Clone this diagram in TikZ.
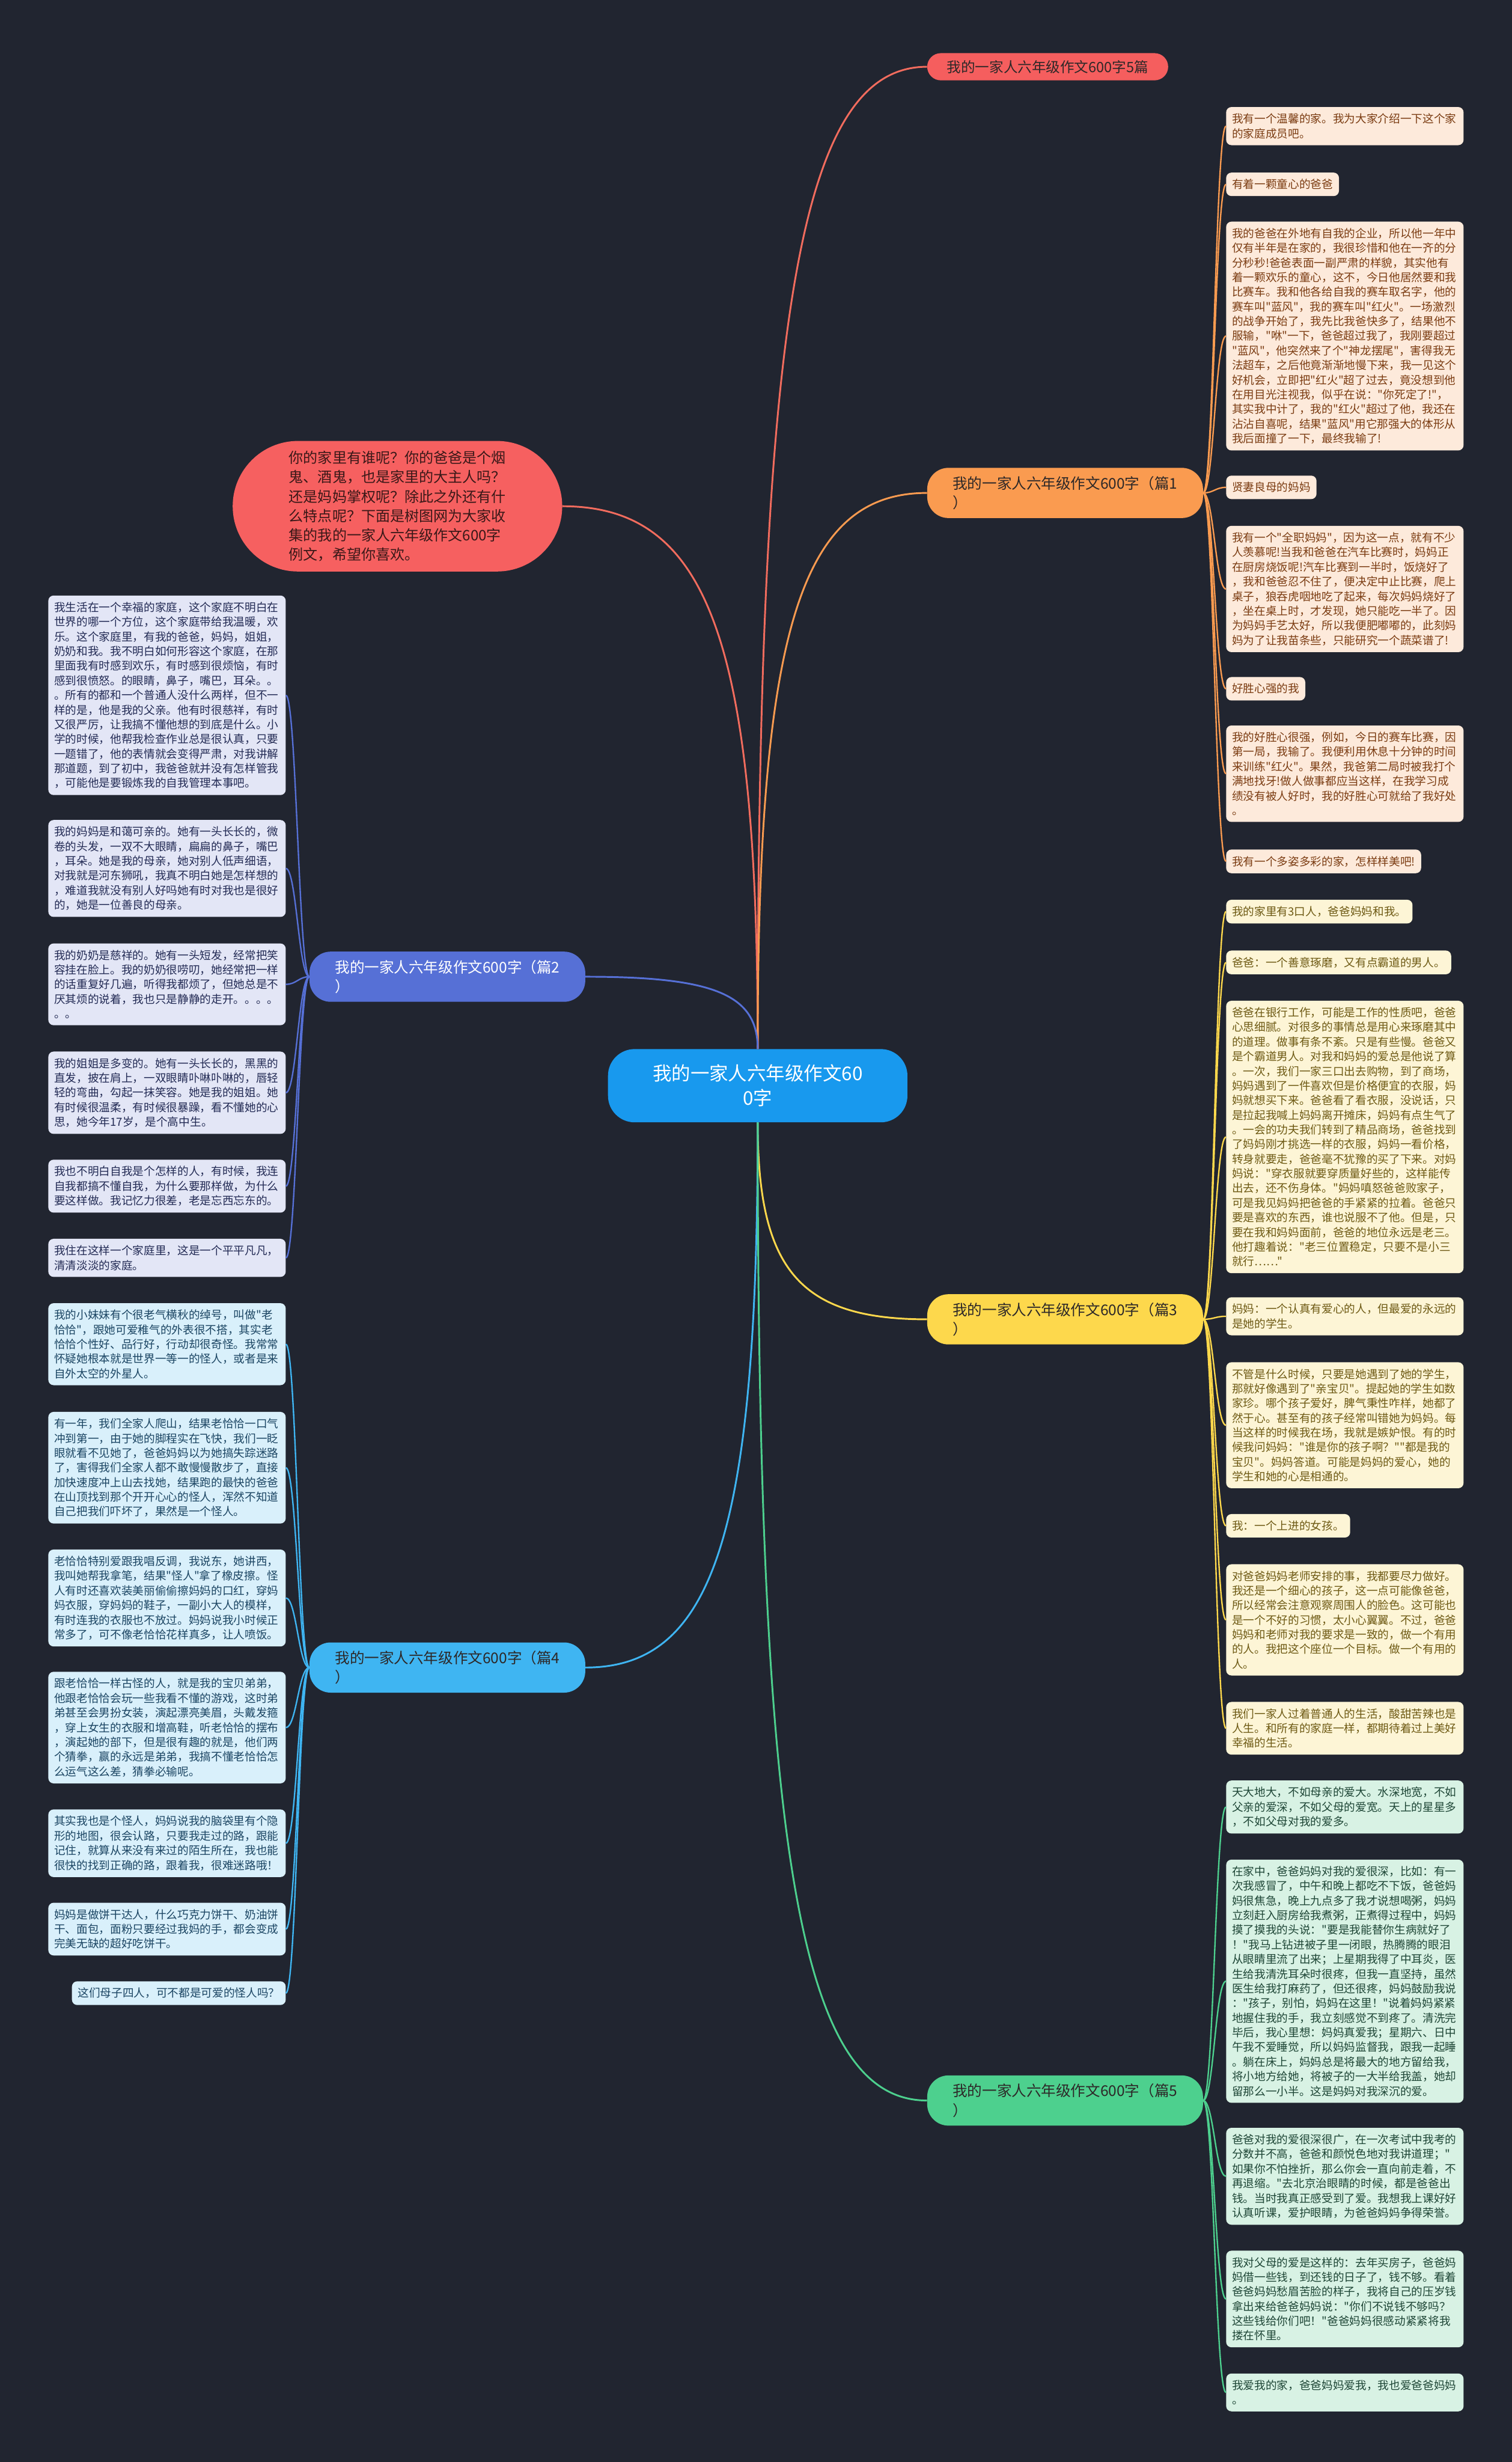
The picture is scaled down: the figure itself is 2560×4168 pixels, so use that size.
\documentclass[tikz,border=0pt]{standalone}
\usepackage{fontspec}
\newfontfamily\cjk{Noto Sans CJK SC}
\usetikzlibrary{calc,shapes.misc}
\definecolor{bgdark}{RGB}{33,37,48}
\definecolor{hubblue}{RGB}{24,153,238}
\definecolor{introred}{RGB}{246,96,96}
\definecolor{introtext}{RGB}{58,24,24}
\definecolor{titlered}{RGB}{245,94,94}
\definecolor{linkred}{RGB}{242,108,94}
\definecolor{essayorange}{RGB}{250,155,80}
\definecolor{essayblue}{RGB}{86,112,214}
\definecolor{essayyellow}{RGB}{253,216,76}
\definecolor{essaycyan}{RGB}{63,181,242}
\definecolor{essaygreen}{RGB}{77,208,142}
\definecolor{darktext}{RGB}{45,40,40}
\definecolor{peachfill}{RGB}{253,234,219}
\definecolor{peachtext}{RGB}{123,60,18}
\definecolor{creamfill}{RGB}{253,245,214}
\definecolor{creamtext}{RGB}{110,90,20}
\definecolor{mintfill}{RGB}{216,242,228}
\definecolor{minttext}{RGB}{30,70,54}
\definecolor{lavfill}{RGB}{227,230,246}
\definecolor{lavtext}{RGB}{35,43,85}
\definecolor{skyfill}{RGB}{217,240,251}
\definecolor{skytext}{RGB}{27,69,99}

% curved link from the hub to an essay node
\newcommand{\stemlink}[3]{\draw[#1] (#2) .. controls ($(#2)!0.75!(#2|-#3)$) and ($(#3)!0.75!(#2|-#3)$) .. (#3);}

\begin{document}
\begin{tikzpicture}[x=1pt, y=-1pt,
    hub/.style={rectangle, rounded corners=45pt, fill=hubblue, text=white, minimum width=507pt,
                minimum height=124pt, align=center, inner sep=4pt, font=\cjk\fontsize{32}{42}\selectfont},
    intro/.style={rounded rectangle, fill=introred, text=introtext, minimum width=566pt,
                  minimum height=221pt, align=left, inner sep=4pt, font=\cjk\fontsize{24.5}{32.7}\selectfont},
    titlebox/.style={rounded rectangle, fill=titlered, text=darktext, minimum width=412pt,
                     minimum height=46pt, inner sep=2pt, font=\cjk\fontsize{24}{30}\selectfont},
    essay/.style={rectangle, rounded corners=36pt, minimum width=467pt, minimum height=85pt,
                  align=left, inner sep=4pt, font=\cjk\fontsize{25}{33}\selectfont},
    leaf/.style={rectangle, rounded corners=9pt, inner xsep=10pt, inner ysep=11pt, align=left,
                 font=\cjk\fontsize{19}{24.8}\selectfont},
    leafw/.style={leaf, text width=382pt},
    rside/.style={anchor=north west},
    lside/.style={anchor=north east},
    peach/.style={fill=peachfill, text=peachtext},
    cream/.style={fill=creamfill, text=creamtext},
    mint/.style={fill=mintfill, text=minttext},
    lav/.style={fill=lavfill, text=lavtext},
    sky/.style={fill=skyfill, text=skytext},
    link/.style={line width=3pt},
    twig/.style={line width=2.4pt}
]
\fill[bgdark] (0,0) rectangle (2560,4168);

% centre, intro and title
\node[hub] (hub) at (1283,1838) {我的一家人六年级作文60\\0字};
\node[intro] (intro) at (673,857) {你的家里有谁呢？你的爸爸是个烟\\鬼、酒鬼，也是家里的大主人吗？\\还是妈妈掌权呢？除此之外还有什\\么特点呢？下面是树图网为大家收\\集的我的一家人六年级作文600字\\例文，希望你喜欢。};
\node[titlebox] (title) at (1774,113) {我的一家人六年级作文600字5篇};

% essay nodes
\node[essay, fill=essayorange, text=darktext] (p1) at (1803.5,834.5) {我的一家人六年级作文600字（篇1\\）};
\node[essay, fill=essayblue, text=white] (p2) at (757.5,1653.5) {我的一家人六年级作文600字（篇2\\）};
\node[essay, fill=essayyellow, text=darktext] (p3) at (1803.5,2233.5) {我的一家人六年级作文600字（篇3\\）};
\node[essay, fill=essaycyan, text=darktext] (p4) at (757.5,2823) {我的一家人六年级作文600字（篇4\\）};
\node[essay, fill=essaygreen, text=darktext] (p5) at (1803.5,3556) {我的一家人六年级作文600字（篇5\\）};

% essay 1
\node[leafw, peach, rside] (a1) at (2076,181) {我有一个温馨的家。我为大家介绍一下这个家\\的家庭成员吧。};
\node[leaf, peach, rside] (a2) at (2076,292) {有着一颗童心的爸爸};
\node[leafw, peach, rside] (a3) at (2076,375) {我的爸爸在外地有自我的企业，所以他一年中\\仅有半年是在家的，我很珍惜和他在一齐的分\\分秒秒!爸爸表面一副严肃的样貌，其实他有\\着一颗欢乐的童心，这不，今日他居然要和我\\比赛车。我和他各给自我的赛车取名字，他的\\赛车叫"蓝风"，我的赛车叫"红火"。一场激烈\\的战争开始了，我先比我爸快多了，结果他不\\服输，"咻"一下，爸爸超过我了，我刚要超过\\"蓝风"，他突然来了个"神龙摆尾"，害得我无\\法超车，之后他竟渐渐地慢下来，我一见这个\\好机会，立即把"红火"超了过去，竟没想到他\\在用目光注视我，似乎在说："你死定了!"，\\其实我中计了，我的"红火"超过了他，我还在\\沾沾自喜呢，结果"蓝风"用它那强大的体形从\\我后面撞了一下，最终我输了!};
\node[leaf, peach, rside] (a4) at (2076,805) {贤妻良母的妈妈};
\node[leafw, peach, rside] (a5) at (2076,890) {我有一个"全职妈妈"，因为这一点，就有不少\\人羡慕呢!当我和爸爸在汽车比赛时，妈妈正\\在厨房烧饭呢!汽车比赛到一半时，饭烧好了\\，我和爸爸忍不住了，便决定中止比赛，爬上\\桌子，狼吞虎咽地吃了起来，每次妈妈烧好了\\，坐在桌上时，才发现，她只能吃一半了。因\\为妈妈手艺太好，所以我便肥嘟嘟的，此刻妈\\妈为了让我苗条些，只能研究一个蔬菜谱了!};
\node[leaf, peach, rside] (a6) at (2076,1146) {好胜心强的我};
\node[leafw, peach, rside] (a7) at (2076,1228) {我的好胜心很强，例如，今日的赛车比赛，因\\第一局，我输了。我便利用休息十分钟的时间\\来训练"红火"。果然，我爸第二局时被我打个\\满地找牙!做人做事都应当这样，在我学习成\\绩没有被人好时，我的好胜心可就给了我好处\\。};
\node[leaf, peach, rside] (a8) at (2076,1438) {我有一个多姿多彩的家，怎样样美吧!};

% essay 3
\node[leaf, cream, rside] (b1) at (2076,1523) {我的家里有3口人，爸爸妈妈和我。};
\node[leaf, cream, rside] (b2) at (2076,1609) {爸爸：一个善意琢磨，又有点霸道的男人。};
\node[leafw, cream, rside] (b3) at (2076,1694) {爸爸在银行工作，可能是工作的性质吧，爸爸\\心思细腻。对很多的事情总是用心来琢磨其中\\的道理。做事有条不紊。只是有些慢。爸爸又\\是个霸道男人。对我和妈妈的爱总是他说了算\\。一次，我们一家三口出去购物，到了商场，\\妈妈遇到了一件喜欢但是价格便宜的衣服，妈\\妈就想买下来。爸爸看了看衣服，没说话，只\\是拉起我喊上妈妈离开摊床，妈妈有点生气了\\。一会的功夫我们转到了精品商场，爸爸找到\\了妈妈刚才挑选一样的衣服，妈妈一看价格，\\转身就要走，爸爸毫不犹豫的买了下来。对妈\\妈说："穿衣服就要穿质量好些的，这样能传\\出去，还不伤身体。"妈妈嗔怒爸爸败家子，\\可是我见妈妈把爸爸的手紧紧的拉着。爸爸只\\要是喜欢的东西，谁也说服不了他。但是，只\\要在我和妈妈面前，爸爸的地位永远是老三。\\他打趣着说："老三位置稳定，只要不是小三\\就行……"};
\node[leafw, cream, rside] (b4) at (2076,2196) {妈妈：一个认真有爱心的人，但最爱的永远的\\是她的学生。};
\node[leafw, cream, rside] (b5) at (2076,2306) {不管是什么时候，只要是她遇到了她的学生，\\那就好像遇到了"亲宝贝"。提起她的学生如数\\家珍。哪个孩子爱好，脾气秉性咋样，她都了\\然于心。甚至有的孩子经常叫错她为妈妈。每\\当这样的时候我在场，我就是嫉妒恨。有的时\\候我问妈妈："谁是你的孩子啊？""都是我的\\宝贝"。妈妈答道。可能是妈妈的爱心，她的\\学生和她的心是相通的。};
\node[leaf, cream, rside] (b6) at (2076,2563) {我：一个上进的女孩。};
\node[leafw, cream, rside] (b7) at (2076,2648) {对爸爸妈妈老师安排的事，我都要尽力做好。\\我还是一个细心的孩子，这一点可能像爸爸，\\所以经常会注意观察周围人的脸色。这可能也\\是一个不好的习惯，太小心翼翼。不过，爸爸\\妈妈和老师对我的要求是一致的，做一个有用\\的人。我把这个座位一个目标。做一个有用的\\人。};
\node[leafw, cream, rside] (b8) at (2076,2881) {我们一家人过着普通人的生活，酸甜苦辣也是\\人生。和所有的家庭一样，都期待着过上美好\\幸福的生活。};

% essay 5
\node[leafw, mint, rside] (c1) at (2076,3014) {天大地大，不如母亲的爱大。水深地宽，不如\\父亲的爱深，不如父母的爱宽。天上的星星多\\，不如父母对我的爱多。};
\node[leafw, mint, rside] (c2) at (2076,3148) {在家中，爸爸妈妈对我的爱很深，比如：有一\\次我感冒了，中午和晚上都吃不下饭，爸爸妈\\妈很焦急，晚上九点多了我才说想喝粥，妈妈\\立刻赶入厨房给我煮粥，正煮得过程中，妈妈\\摸了摸我的头说："要是我能替你生病就好了\\！"我马上钻进被子里一闭眼，热腾腾的眼泪\\从眼睛里流了出来；上星期我得了中耳炎，医\\生给我清洗耳朵时很疼，但我一直坚持，虽然\\医生给我打麻药了，但还很疼，妈妈鼓励我说\\："孩子，别怕，妈妈在这里！"说着妈妈紧紧\\地握住我的手，我立刻感觉不到疼了。清洗完\\毕后，我心里想：妈妈真爱我；星期六、日中\\午我不爱睡觉，所以妈妈监督我，跟我一起睡\\。躺在床上，妈妈总是将最大的地方留给我，\\将小地方给她，将被子的一大半给我盖，她却\\留那么一小半。这是妈妈对我深沉的爱。};
\node[leafw, mint, rside] (c3) at (2076,3602) {爸爸对我的爱很深很广，在一次考试中我考的\\分数并不高，爸爸和颜悦色地对我讲道理；"\\如果你不怕挫折，那么你会一直向前走着，不\\再退缩。"去北京治眼睛的时候，都是爸爸出\\钱。当时我真正感受到了爱。我想我上课好好\\认真听课，爱护眼睛，为爸爸妈妈争得荣誉。};
\node[leafw, mint, rside] (c4) at (2076,3810) {我对父母的爱是这样的：去年买房子，爸爸妈\\妈借一些钱，到还钱的日子了，钱不够。看着\\爸爸妈妈愁眉苦脸的样子，我将自己的压岁钱\\拿出来给爸爸妈妈说："你们不说钱不够吗？\\这些钱给你们吧！"爸爸妈妈很感动紧紧将我\\搂在怀里。};
\node[leafw, mint, rside] (c5) at (2076,4018) {我爱我的家，爸爸妈妈爱我，我也爱爸爸妈妈\\。};

% essay 2
\node[leafw, lav, lside] (d1) at (484,1008) {我生活在一个幸福的家庭，这个家庭不明白在\\世界的哪一个方位，这个家庭带给我温暖，欢\\乐。这个家庭里，有我的爸爸，妈妈，姐姐，\\奶奶和我。我不明白如何形容这个家庭，在那\\里面我有时感到欢乐，有时感到很烦恼，有时\\感到很愤怒。的眼睛，鼻子，嘴巴，耳朵。。\\。所有的都和一个普通人没什么两样，但不一\\样的是，他是我的父亲。他有时很慈祥，有时\\又很严厉，让我搞不懂他想的到底是什么。小\\学的时候，他帮我检查作业总是很认真，只要\\一题错了，他的表情就会变得严肃，对我讲解\\那道题，到了初中，我爸爸就并没有怎样管我\\，可能他是要锻炼我的自我管理本事吧。};
\node[leafw, lav, lside] (d2) at (484,1388) {我的妈妈是和蔼可亲的。她有一头长长的，微\\卷的头发，一双不大眼睛，扁扁的鼻子，嘴巴\\，耳朵。她是我的母亲，她对别人低声细语，\\对我就是河东狮吼，我真不明白她是怎样想的\\，难道我就没有别人好吗她有时对我也是很好\\的，她是一位善良的母亲。};
\node[leafw, lav, lside] (d3) at (484,1597) {我的奶奶是慈祥的。她有一头短发，经常把笑\\容挂在脸上。我的奶奶很唠叨，她经常把一样\\的话重复好几遍，听得我都烦了，但她总是不\\厌其烦的说着，我也只是静静的走开。。。。\\。。};
\node[leafw, lav, lside] (d4) at (484,1780) {我的姐姐是多变的。她有一头长长的，黑黑的\\直发，披在肩上，一双眼睛卟啉卟啉的，唇轻\\轻的弯曲，勾起一抹笑容。她是我的姐姐。她\\有时候很温柔，有时候很暴躁，看不懂她的心\\思，她今年17岁，是个高中生。};
\node[leafw, lav, lside] (d5) at (484,1963) {我也不明白自我是个怎样的人，有时候，我连\\自我都搞不懂自我，为什么要那样做，为什么\\要这样做。我记忆力很差，老是忘西忘东的。};
\node[leafw, lav, lside] (d6) at (484,2097) {我住在这样一个家庭里，这是一个平平凡凡，\\清清淡淡的家庭。};

% essay 4
\node[leafw, sky, lside] (e1) at (484,2206) {我的小妹妹有个很老气横秋的绰号，叫做"老\\恰恰"，跟她可爱稚气的外表很不搭，其实老\\恰恰个性好、品行好，行动却很奇怪。我常常\\怀疑她根本就是世界一等一的怪人，或者是来\\自外太空的外星人。};
\node[leafw, sky, lside] (e2) at (484,2390) {有一年，我们全家人爬山，结果老恰恰一口气\\冲到第一，由于她的脚程实在飞快，我们一眨\\眼就看不见她了，爸爸妈妈以为她搞失踪迷路\\了，害得我们全家人都不敢慢慢散步了，直接\\加快速度冲上山去找她，结果跑的最快的爸爸\\在山顶找到那个开开心心的怪人，浑然不知道\\自己把我们吓坏了，果然是一个怪人。};
\node[leafw, sky, lside] (e3) at (484,2623) {老恰恰特别爱跟我唱反调，我说东，她讲西，\\我叫她帮我拿笔，结果"怪人"拿了橡皮擦。怪\\人有时还喜欢装美丽偷偷擦妈妈的口红，穿妈\\妈衣服，穿妈妈的鞋子，一副小大人的模样，\\有时连我的衣服也不放过。妈妈说我小时候正\\常多了，可不像老恰恰花样真多，让人喷饭。};
\node[leafw, sky, lside] (e4) at (484,2830) {跟老恰恰一样古怪的人，就是我的宝贝弟弟，\\他跟老恰恰会玩一些我看不懂的游戏，这时弟\\弟甚至会男扮女装，演起漂亮美眉，头戴发箍\\，穿上女生的衣服和增高鞋，听老恰恰的摆布\\，演起她的部下，但是很有趣的就是，他们两\\个猜拳，赢的永远是弟弟，我搞不懂老恰恰怎\\么运气这么差，猜拳必输呢。};
\node[leafw, sky, lside] (e5) at (484,3063) {其实我也是个怪人，妈妈说我的脑袋里有个隐\\形的地图，很会认路，只要我走过的路，跟能\\记住，就算从来没有来过的陌生所在，我也能\\很快的找到正确的路，跟着我，很难迷路哦！};
\node[leafw, sky, lside] (e6) at (484,3221) {妈妈是做饼干达人，什么巧克力饼干、奶油饼\\干、面包，面粉只要经过我妈的手，都会变成\\完美无缺的超好吃饼干。};
\node[leaf, sky, lside] (e7) at (484,3354) {这们母子四人，可不都是可爱的怪人吗？};

% links from the hub
\stemlink{link, linkred}{hub.north}{title.west}
\stemlink{link, linkred}{hub.north}{intro.east}
\stemlink{link, essayorange}{hub.north}{p1.west}
\stemlink{link, essayblue}{hub.north}{p2.east}
\stemlink{link, essayyellow}{hub.south}{p3.west}
\stemlink{link, essaycyan}{hub.south}{p4.east}
\stemlink{link, essaygreen}{hub.south}{p5.west}

% links to the leaves
\foreach \n in {a1,a2,a3,a4,a5,a6,a7,a8}
  \draw[twig, essayorange] (p1.east) .. controls +(18,0) and +(-18,0) .. (\n.west);
\foreach \n in {b1,b2,b3,b4,b5,b6,b7,b8}
  \draw[twig, essayyellow] (p3.east) .. controls +(18,0) and +(-18,0) .. (\n.west);
\foreach \n in {c1,c2,c3,c4,c5}
  \draw[twig, essaygreen] (p5.east) .. controls +(18,0) and +(-18,0) .. (\n.west);
\foreach \n in {d1,d2,d3,d4,d5,d6}
  \draw[twig, essayblue] (p2.west) .. controls +(-18,0) and +(18,0) .. (\n.east);
\foreach \n in {e1,e2,e3,e4,e5,e6,e7}
  \draw[twig, essaycyan] (p4.west) .. controls +(-18,0) and +(18,0) .. (\n.east);
\end{tikzpicture}
\end{document}
